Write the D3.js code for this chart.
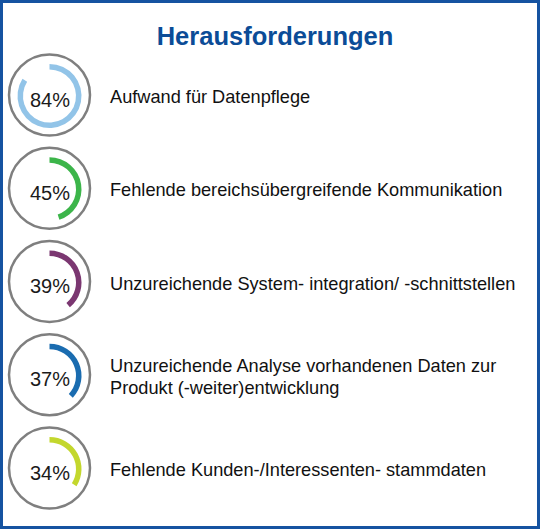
<!DOCTYPE html>
<html>
<head>
<meta charset="utf-8">
<script src="https://cdn.jsdelivr.net/npm/d3@7"></script>
<style>
  html, body { margin: 0; padding: 0; background: #fff; }
  svg { display: block; font-family: "Liberation Sans", Arial, sans-serif; }
</style>
</head>
<body>
<div id="chart"></div>
<script>
// data
const title = "Herausforderungen";
const values = [84, 45, 39, 37, 34];
const labels = [
  ["Aufwand für Datenpflege"],
  ["Fehlende bereichsübergreifende Kommunikation"],
  ["Unzureichende System- integration/ -schnittstellen"],
  ["Unzureichende Analyse vorhandenen Daten zur", "Produkt (-weiter)entwicklung"],
  ["Fehlende Kunden-/Interessenten- stammdaten"]
];
const colors = ["#92c4e8", "#3cb54a", "#7b3771", "#1a6cb0", "#c3d72d"];

const W = 540, H = 529;
const cx = 49.5;

const svg = d3.select("#chart").append("svg")
    .attr("width", W)
    .attr("height", H);

// frame
svg.append("rect")
    .attr("x", 1.5).attr("y", 1.5)
    .attr("width", W - 3).attr("height", H - 3)
    .attr("fill", "#fff")
    .attr("stroke", "#1553a1")
    .attr("stroke-width", 3);

svg.append("text")
    .attr("x", 275)
    .attr("y", 45)
    .attr("text-anchor", "middle")
    .attr("font-size", 25.5)
    .attr("font-weight", "bold")
    .attr("fill", "#0b4c97")
    .text(title);

// rows
const y = d3.scalePoint()
    .domain(d3.range(values.length))
    .range([96, 469]);

const angle = d3.scaleLinear()
    .domain([0, 100])
    .range([0, 2 * Math.PI]);

const arc = d3.arc()
    .innerRadius(26.5)
    .outerRadius(32)
    .startAngle(0);

const rows = svg.selectAll("g.row")
  .data(values)
  .join("g")
    .attr("class", "row")
    .attr("transform", (d, i) => `translate(0,${y(i)})`);

// grey ring
rows.append("circle")
    .attr("cx", cx)
    .attr("cy", -1)
    .attr("r", 40.5)
    .attr("fill", "#fff")
    .attr("stroke", "#7f7f7f")
    .attr("stroke-width", 2.5);

// value arc
rows.append("path")
    .attr("transform", `translate(${cx},0)`)
    .attr("d", d => arc({ endAngle: angle(d) }))
    .attr("fill", (d, i) => colors[i]);

// percentage
rows.append("text")
    .attr("x", cx + 0.5)
    .attr("y", 10.5)
    .attr("text-anchor", "middle")
    .attr("font-size", 20)
    .attr("fill", "#1a1a1a")
    .text(d => d + "%");

// labels
rows.append("text")
    .attr("font-size", 18.2)
    .attr("fill", "#111")
    .each(function(d, i) {
      const lines = labels[i];
      const t = d3.select(this);
      const off = (lines.length - 1) * 10.5;
      lines.forEach((s, k) => {
        t.append("tspan")
          .attr("x", 110)
          .attr("y", 7 - off + k * 21.5)
          .text(s);
      });
    });
</script>
</body>
</html>
